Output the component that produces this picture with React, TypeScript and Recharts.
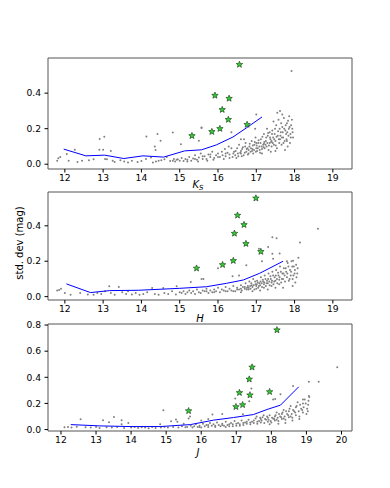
import { ScatterChart, Scatter, XAxis, YAxis, ReferenceArea } from "recharts";

type Pt = [number, number];

// ---- Ks panel ----
const ksField: Pt[] = [
  [11.8, 0.02], [11.83, 0.034], [11.88, 0.04], [12.05, 0.057], [12.1, 0.02], [12.26, 0.081], [12.33, 0.012],
  [12.45, 0.02], [12.63, 0.022], [12.75, 0.028], [12.91, 0.142], [13.03, 0.155], [12.9, 0.081], [13.0, 0.081],
  [13.2, 0.075], [13.05, 0.03], [13.1, 0.028], [13.25, 0.02], [13.3, 0.012], [13.45, 0.022], [13.55, 0.015],
  [13.65, 0.01], [13.75, 0.02], [13.9, 0.012], [14.0, 0.018], [14.13, 0.156], [14.12, 0.03], [14.25, 0.038],
  [14.3, 0.01], [14.35, 0.1], [14.37, 0.08], [14.42, 0.17], [14.5, 0.132], [14.38, 0.015], [14.45, 0.02],
  [14.52, 0.022], [14.6, 0.028], [14.66, 0.04], [14.82, 0.179], [14.75, 0.018], [14.85, 0.03], [14.92, 0.025],
  [15.03, 0.113], [15.5, 0.132], [15.57, 0.204], [15.57, 0.207],
  [14.82, 0.02], [14.88, 0.015], [14.95, 0.028], [15.0, 0.02], [15.05, 0.035], [15.1, 0.018], [15.15, 0.03],
  [15.2, 0.025], [15.25, 0.04], [15.3, 0.02], [15.35, 0.032], [15.4, 0.05], [15.45, 0.025], [15.5, 0.038],
  [15.55, 0.06], [15.6, 0.03], [15.48, 0.015], [15.65, 0.045], [15.7, 0.03], [15.75, 0.055], [15.8, 0.04],
  [15.85, 0.07], [15.9, 0.035], [15.95, 0.05], [16.0, 0.06], [15.72, 0.02], [15.88, 0.025], [16.05, 0.04],
  [16.1, 0.07], [16.12, 0.05], [16.18, 0.085], [16.2, 0.045], [16.25, 0.065], [16.3, 0.055], [16.35, 0.09],
  [16.38, 0.04], [16.15, 0.03], [16.28, 0.1], [16.42, 0.07], [16.45, 0.05], [16.5, 0.09], [16.52, 0.06],
  [16.55, 0.11], [16.6, 0.075], [16.62, 0.045], [16.65, 0.095], [16.7, 0.065], [16.72, 0.12], [16.75, 0.085],
  [16.78, 0.055], [16.48, 0.035], [16.68, 0.14], [16.82, 0.1], [16.85, 0.07], [16.88, 0.13], [16.9, 0.085],
  [16.92, 0.06], [16.95, 0.11], [16.98, 0.15], [17.0, 0.09], [17.02, 0.075], [17.05, 0.12], [17.08, 0.1],
  [17.1, 0.065], [17.12, 0.14], [17.15, 0.085], [17.18, 0.11], [17.2, 0.17], [17.0, 0.28], [16.97, 0.2],
  [17.22, 0.09], [17.25, 0.13], [17.27, 0.1], [17.3, 0.16], [17.32, 0.08], [17.35, 0.12], [17.37, 0.14],
  [17.4, 0.1], [17.42, 0.19], [17.44, 0.15], [17.46, 0.11], [17.48, 0.17], [17.5, 0.13], [17.52, 0.22],
  [17.54, 0.09], [17.56, 0.16], [17.58, 0.25], [17.6, 0.12], [17.28, 0.2], [17.38, 0.07], [17.45, 0.24],
  [17.55, 0.29], [17.62, 0.3], [17.62, 0.14], [17.64, 0.18], [17.66, 0.11], [17.68, 0.21], [17.7, 0.15],
  [17.72, 0.26], [17.74, 0.13], [17.76, 0.19], [17.78, 0.17], [17.8, 0.23], [17.82, 0.1], [17.85, 0.2],
  [17.88, 0.12], [17.86, 0.27], [17.9, 0.15], [17.92, 0.525], [17.93, 0.25], [17.95, 0.18], [17.75, 0.08],
  [17.68, 0.28], [16.35, 0.18], [16.6, 0.14], [17.35, 0.18], [17.15, 0.06], [17.5, 0.075], [17.8, 0.13],
  [16.3, 0.035], [16.4, 0.06], [16.46, 0.075], [16.53, 0.045], [16.58, 0.065], [16.63, 0.085], [16.67, 0.05],
  [16.71, 0.1], [16.74, 0.07], [16.77, 0.09], [16.8, 0.06], [16.83, 0.115], [16.86, 0.09], [16.89, 0.075],
  [16.91, 0.105], [16.94, 0.08], [16.96, 0.125], [16.99, 0.07], [17.01, 0.105], [17.04, 0.09], [17.06, 0.135],
  [17.09, 0.08], [17.11, 0.12], [17.14, 0.1], [17.16, 0.155], [17.19, 0.095], [17.21, 0.125], [17.24, 0.11],
  [17.26, 0.15], [17.29, 0.12], [17.31, 0.175], [17.33, 0.105], [17.36, 0.15], [17.39, 0.125], [17.41, 0.17],
  [17.43, 0.12], [17.47, 0.14], [17.49, 0.2], [17.51, 0.105], [17.53, 0.155], [17.57, 0.185], [17.59, 0.14],
  [17.61, 0.2], [17.63, 0.16], [17.65, 0.23], [17.67, 0.15], [17.69, 0.18], [17.71, 0.12], [17.73, 0.2],
  [17.77, 0.22], [17.79, 0.14], [17.81, 0.18], [17.83, 0.245], [17.84, 0.16], [17.87, 0.21], [17.89, 0.17],
  [17.91, 0.22], [17.94, 0.2], [17.96, 0.15], [17.4, 0.13], [17.2, 0.115], [17.0, 0.12], [16.8, 0.08],
  [16.6, 0.06], [16.2, 0.06], [16.0, 0.04], [15.8, 0.055], [15.6, 0.045], [15.4, 0.03], [15.2, 0.015],
];
const ksMedian: Pt[] = [
  [11.97, 0.085], [12.55, 0.047], [13.04, 0.051], [13.54, 0.032], [14.04, 0.047], [14.58, 0.04],
  [15.13, 0.075], [15.57, 0.081], [15.96, 0.109], [16.39, 0.153], [16.74, 0.204], [17.15, 0.266],
];
const ksStars: Pt[] = [
  [15.32, 0.16], [15.84, 0.183], [16.05, 0.2], [15.92, 0.387], [16.11, 0.307], [16.29, 0.37],
  [16.27, 0.251], [16.56, 0.561], [16.76, 0.223],
];

// ---- H panel ----
const hField: Pt[] = [
  [11.8, 0.035], [11.85, 0.038], [11.9, 0.045], [12.0, 0.02], [12.15, 0.01], [12.4, 0.02], [12.6, 0.012],
  [12.75, 0.01], [12.85, 0.02], [12.95, 0.015], [13.05, 0.03], [13.16, 0.058], [13.2, 0.02], [13.3, 0.01],
  [13.41, 0.055], [13.5, 0.025], [13.6, 0.015], [13.65, 0.03], [13.75, 0.012], [13.85, 0.02], [13.95, 0.01],
  [14.05, 0.015], [14.15, 0.025], [14.28, 0.049], [14.35, 0.015], [14.45, 0.01], [14.57, 0.049], [14.6, 0.02],
  [14.7, 0.015], [14.8, 0.03], [14.9, 0.012], [15.0, 0.025], [14.92, 0.058], [15.29, 0.083], [15.57, 0.1],
  [15.05, 0.02], [15.1, 0.03], [15.15, 0.015], [15.2, 0.025], [15.25, 0.035], [15.3, 0.02], [15.35, 0.03],
  [15.4, 0.015], [15.45, 0.04], [15.5, 0.025], [15.55, 0.02], [15.6, 0.035], [15.65, 0.03], [15.7, 0.045],
  [15.75, 0.02], [15.8, 0.035], [15.85, 0.025], [15.9, 0.04], [15.95, 0.03], [16.0, 0.05], [16.05, 0.025],
  [16.1, 0.04], [16.15, 0.035], [16.2, 0.055], [16.25, 0.03], [16.3, 0.045], [16.35, 0.035], [16.4, 0.06],
  [16.45, 0.03], [16.5, 0.05], [16.55, 0.04], [16.6, 0.065], [16.62, 0.035], [16.65, 0.055], [16.7, 0.045],
  [16.72, 0.075], [16.75, 0.04], [16.78, 0.06], [16.8, 0.05], [16.82, 0.085], [16.85, 0.045], [16.88, 0.065],
  [16.9, 0.055], [16.92, 0.1], [16.95, 0.04], [16.98, 0.07], [17.0, 0.06], [17.02, 0.09], [17.05, 0.05],
  [17.08, 0.075], [17.1, 0.065], [17.12, 0.11], [17.15, 0.055], [17.18, 0.085], [17.2, 0.07], [17.22, 0.12],
  [17.25, 0.06], [17.28, 0.09], [17.3, 0.075], [17.32, 0.13], [17.35, 0.065], [17.38, 0.1], [17.4, 0.08],
  [17.42, 0.14], [17.45, 0.07], [17.48, 0.11], [17.5, 0.09], [17.52, 0.15], [17.55, 0.075], [17.58, 0.12],
  [17.6, 0.095], [17.62, 0.17], [17.65, 0.08], [17.68, 0.13], [17.7, 0.1], [17.72, 0.16], [17.75, 0.085],
  [17.78, 0.14], [17.8, 0.11], [17.82, 0.19], [17.85, 0.09], [17.88, 0.15], [17.9, 0.12], [17.92, 0.2],
  [17.95, 0.1], [17.98, 0.17], [18.0, 0.13], [18.02, 0.08], [18.05, 0.11], [18.08, 0.16], [17.95, 0.06],
  [17.7, 0.05], [17.5, 0.05], [17.3, 0.04], [17.1, 0.035], [16.9, 0.03], [16.6, 0.025],
  [18.61, 0.383], [18.14, 0.306], [17.42, 0.336], [17.53, 0.33], [17.07, 0.27], [17.31, 0.28],
  [17.42, 0.242], [17.61, 0.244], [17.44, 0.214], [16.74, 0.177], [16.38, 0.115], [17.96, 0.203],
  [17.8, 0.2], [16.0, 0.16], [17.15, 0.2], [18.1, 0.22], [15.62, 0.1], [16.55, 0.12],
  [16.5, 0.04], [16.6, 0.045], [16.7, 0.055], [16.76, 0.05], [16.84, 0.06], [16.87, 0.075], [16.93, 0.065],
  [16.97, 0.085], [17.01, 0.07], [17.04, 0.08], [17.07, 0.06], [17.11, 0.085], [17.14, 0.075], [17.17, 0.095],
  [17.21, 0.08], [17.24, 0.1], [17.27, 0.075], [17.31, 0.1], [17.34, 0.085], [17.37, 0.115], [17.41, 0.09],
  [17.44, 0.12], [17.47, 0.085], [17.51, 0.12], [17.54, 0.1], [17.57, 0.135], [17.61, 0.11], [17.64, 0.14],
  [17.67, 0.1], [17.71, 0.13], [17.74, 0.12], [17.77, 0.16], [17.81, 0.13], [17.84, 0.17], [17.87, 0.1],
  [17.91, 0.14], [17.94, 0.17], [17.97, 0.12], [18.01, 0.15], [18.04, 0.18], [18.07, 0.13], [17.6, 0.07],
  [17.4, 0.06], [17.2, 0.05], [17.0, 0.045], [16.8, 0.04], [16.4, 0.03], [16.2, 0.03], [15.9, 0.025],
  [15.7, 0.03],
];
const hMedian: Pt[] = [
  [12.04, 0.072], [12.67, 0.023], [13.17, 0.034], [13.93, 0.036], [15.0, 0.047], [15.7, 0.056],
  [16.22, 0.075], [16.66, 0.094], [17.09, 0.132], [17.7, 0.2],
];
const hStars: Pt[] = [
  [15.44, 0.16], [16.12, 0.18], [16.4, 0.203], [16.43, 0.357], [16.51, 0.459], [16.68, 0.406],
  [16.73, 0.299], [16.99, 0.556], [17.12, 0.254],
];

// ---- J panel ----
const jField: Pt[] = [
  [12.1, 0.018], [12.2, 0.02], [12.3, 0.015], [12.45, 0.022], [12.56, 0.079], [12.7, 0.018], [12.85, 0.015],
  [13.0, 0.02], [13.1, 0.012], [13.2, 0.072], [13.3, 0.018], [13.37, 0.056], [13.45, 0.015], [13.51, 0.097],
  [13.6, 0.02], [13.73, 0.072], [13.73, 0.04], [13.8, 0.012], [13.92, 0.051], [14.0, 0.015], [14.1, 0.02],
  [14.2, 0.012], [14.3, 0.018], [14.4, 0.015], [14.5, 0.01], [14.6, 0.02], [14.7, 0.012], [14.83, 0.041],
  [14.85, 0.015], [14.92, 0.148], [14.95, 0.02], [15.05, 0.015], [15.14, 0.064], [15.2, 0.02], [15.28, 0.077],
  [15.32, 0.06], [15.35, 0.015], [15.45, 0.025], [15.5, 0.045], [15.55, 0.018], [15.64, 0.085], [15.68, 0.1],
  [15.6, 0.02], [15.7, 0.03], [15.75, 0.015], [15.8, 0.025], [15.85, 0.04], [15.9, 0.02], [15.95, 0.03],
  [16.0, 0.015], [16.05, 0.045], [16.1, 0.025], [16.15, 0.035], [16.2, 0.02], [16.25, 0.05], [16.3, 0.03],
  [16.35, 0.04], [16.4, 0.02], [16.45, 0.055], [16.5, 0.035], [16.55, 0.025], [16.6, 0.045], [16.65, 0.03],
  [16.7, 0.06], [16.75, 0.035], [16.8, 0.025], [16.85, 0.05], [16.9, 0.04], [16.95, 0.065], [17.0, 0.03],
  [17.05, 0.05], [17.1, 0.04], [17.15, 0.07], [17.2, 0.035], [17.25, 0.055], [17.3, 0.045], [17.35, 0.075],
  [17.4, 0.04], [17.45, 0.06], [17.5, 0.05], [17.55, 0.085], [17.6, 0.045], [17.65, 0.065], [17.7, 0.055],
  [17.75, 0.095], [17.8, 0.05], [17.85, 0.075], [17.9, 0.06], [17.95, 0.11], [18.0, 0.055], [18.05, 0.085],
  [18.1, 0.07], [18.15, 0.13], [18.2, 0.065], [18.25, 0.1], [18.3, 0.08], [18.35, 0.15], [18.4, 0.075],
  [18.45, 0.12], [18.5, 0.095], [18.55, 0.18], [18.6, 0.09], [18.65, 0.14], [18.7, 0.11], [18.75, 0.21],
  [18.8, 0.1], [18.85, 0.16], [18.9, 0.13], [18.95, 0.23], [19.0, 0.12], [19.05, 0.19], [19.08, 0.25],
  [19.02, 0.16], [18.9, 0.2], [18.7, 0.17], [18.5, 0.14], [18.3, 0.12], [18.1, 0.1], [17.9, 0.09],
  [17.7, 0.08], [17.5, 0.07], [17.3, 0.06], [17.1, 0.03], [16.9, 0.025], [16.7, 0.02], [18.4, 0.05],
  [18.6, 0.07], [18.8, 0.08], [18.2, 0.045], [17.95, 0.04],
  [19.88, 0.477], [19.07, 0.366], [19.35, 0.366], [18.62, 0.333], [18.26, 0.27], [18.11, 0.233],
  [19.07, 0.256], [18.9, 0.23], [17.43, 0.315], [16.97, 0.238], [16.97, 0.17], [17.37, 0.216],
  [17.19, 0.118], [16.32, 0.115], [16.6, 0.12], [16.0, 0.07], [16.2, 0.08], [18.05, 0.23],
  [17.6, 0.06], [17.72, 0.07], [17.82, 0.08], [17.92, 0.075], [18.02, 0.09], [18.08, 0.08], [18.12, 0.11],
  [18.18, 0.09], [18.22, 0.12], [18.28, 0.095], [18.32, 0.13], [18.38, 0.1], [18.42, 0.14], [18.48, 0.11],
  [18.52, 0.16], [18.58, 0.12], [18.62, 0.15], [18.68, 0.13], [18.72, 0.18], [18.78, 0.14], [18.82, 0.19],
  [18.88, 0.15], [18.92, 0.17], [18.98, 0.2], [19.04, 0.14], [19.06, 0.22], [18.55, 0.1], [18.35, 0.085],
  [18.15, 0.075], [17.98, 0.065], [17.4, 0.055], [17.2, 0.05], [17.0, 0.045], [16.8, 0.04], [16.6, 0.035],
  [16.4, 0.03], [16.2, 0.035], [15.95, 0.02], [17.58, 0.1], [17.78, 0.11], [17.68, 0.09], [17.88, 0.1],
];
const jMedian: Pt[] = [
  [12.28, 0.038], [13.11, 0.028], [13.97, 0.023], [14.83, 0.023], [15.69, 0.038], [16.35, 0.072],
  [16.92, 0.092], [17.49, 0.115], [17.88, 0.154], [18.26, 0.187], [18.78, 0.327],
];
const jStars: Pt[] = [
  [15.64, 0.143], [16.99, 0.174], [17.09, 0.282], [17.18, 0.189], [17.37, 0.385], [17.39, 0.264],
  [17.45, 0.477], [17.95, 0.289], [18.16, 0.762],
];

const ticksA = [12, 13, 14, 15, 16, 17, 18, 19];
const ticksB = [12, 13, 14, 15, 16, 17, 18, 19, 20];
const yTicksSmall = [0, 0.2, 0.4];
const yTicksBig = [0, 0.2, 0.4, 0.6, 0.8];

const font = "DejaVu Sans, sans-serif";
const toObj = (a: Pt[]) => a.map(([x, y]) => ({ x, y }));

const Dot = (p: any) => <circle cx={p.cx} cy={p.cy} r={1} fill="#808080" />;
const Nothing = () => <g />;
const Star = (p: any) => {
  const pts: string[] = [];
  for (let i = 0; i < 10; i++) {
    const r = i % 2 === 0 ? 3.4 : 1.45;
    const a = -Math.PI / 2 + (i * Math.PI) / 5;
    pts.push(`${p.cx + r * Math.cos(a)},${p.cy + r * Math.sin(a)}`);
  }
  return <polygon points={pts.join(" ")} fill="#2fd02f" stroke="#143014" strokeWidth={0.6} />;
};

interface PanelProps {
  top: number;
  height: number;
  marginTop: number;
  field: Pt[];
  median: Pt[];
  stars: Pt[];
  xDomain: [number, number];
  yDomain: [number, number];
  xTicks: number[];
  yTicks: number[];
}

function Panel({ top, height, marginTop, field, median, stars, xDomain, yDomain, xTicks, yTicks }: PanelProps) {
  const tick = { fontSize: 9.2, fontFamily: font, fill: "#000" };
  return (
    <div style={{ position: "absolute", left: 0, top }}>
      <ScatterChart width={390} height={height} margin={{ top: marginTop, right: 38, bottom: 1, left: 8 }}>
        <XAxis
          type="number"
          dataKey="x"
          domain={xDomain}
          ticks={xTicks}
          allowDataOverflow
          height={30}
          tickSize={3.5}
          tickMargin={2}
          axisLine={false}
          tickLine={{ stroke: "#000" }}
          tick={tick}
        />
        <YAxis
          type="number"
          dataKey="y"
          domain={yDomain}
          ticks={yTicks}
          allowDataOverflow
          width={40}
          tickSize={3.5}
          tickMargin={3.5}
          axisLine={false}
          tickLine={{ stroke: "#000" }}
          tick={tick}
          tickFormatter={(v: number) => v.toFixed(1)}
        />
        <Scatter data={toObj(field)} shape={Dot} isAnimationActive={false} />
        <Scatter
          data={toObj(median)}
          shape={Nothing}
          line={{ stroke: "#0000ff", strokeWidth: 1 }}
          isAnimationActive={false}
        />
        <Scatter data={toObj(stars)} shape={Star} isAnimationActive={false} />
        <ReferenceArea
          x1={xDomain[0]}
          x2={xDomain[1]}
          y1={yDomain[0]}
          y2={yDomain[1]}
          fill="none"
          stroke="#555"
          strokeWidth={1}
          ifOverflow="visible"
        />
      </ScatterChart>
    </div>
  );
}

export default function App() {
  return (
    <div style={{ position: "absolute", left: 0, top: 0, width: 390, height: 488, background: "#fff" }}>
      <Panel
        top={0}
        height={200}
        marginTop={58}
        field={ksField}
        median={ksMedian}
        stars={ksStars}
        xDomain={[11.56, 19.5]}
        yDomain={[-0.027, 0.598]}
        xTicks={ticksA}
        yTicks={yTicksSmall}
      />
      <Panel
        top={180}
        height={151}
        marginTop={12}
        field={hField}
        median={hMedian}
        stars={hStars}
        xDomain={[11.56, 19.5]}
        yDomain={[-0.019, 0.591]}
        xTicks={ticksA}
        yTicks={yTicksSmall}
      />
      <Panel
        top={310}
        height={152}
        marginTop={14}
        field={jField}
        median={jMedian}
        stars={jStars}
        xDomain={[11.63, 20.3]}
        yDomain={[-0.011, 0.808]}
        xTicks={ticksB}
        yTicks={yTicksBig}
      />
      <svg width={390} height={488} style={{ position: "absolute", left: 0, top: 0, pointerEvents: "none" }}>
        <text x={198} y={188} fontFamily={font} fontSize={10} textAnchor="middle">
          <tspan fontStyle="italic">K</tspan>
          <tspan fontStyle="italic" fontSize={7} dy={2}>S</tspan>
        </text>
        <text x={200} y={322} fontFamily={font} fontSize={10} fontStyle="italic" textAnchor="middle">
          H
        </text>
        <text x={198} y={456} fontFamily={font} fontSize={10} fontStyle="italic" textAnchor="middle">
          J
        </text>
        <text
          x={0}
          y={0}
          transform="translate(23,243) rotate(-90)"
          fontFamily={font}
          fontSize={10}
          textAnchor="middle"
        >
          std. dev (mag)
        </text>
      </svg>
    </div>
  );
}
